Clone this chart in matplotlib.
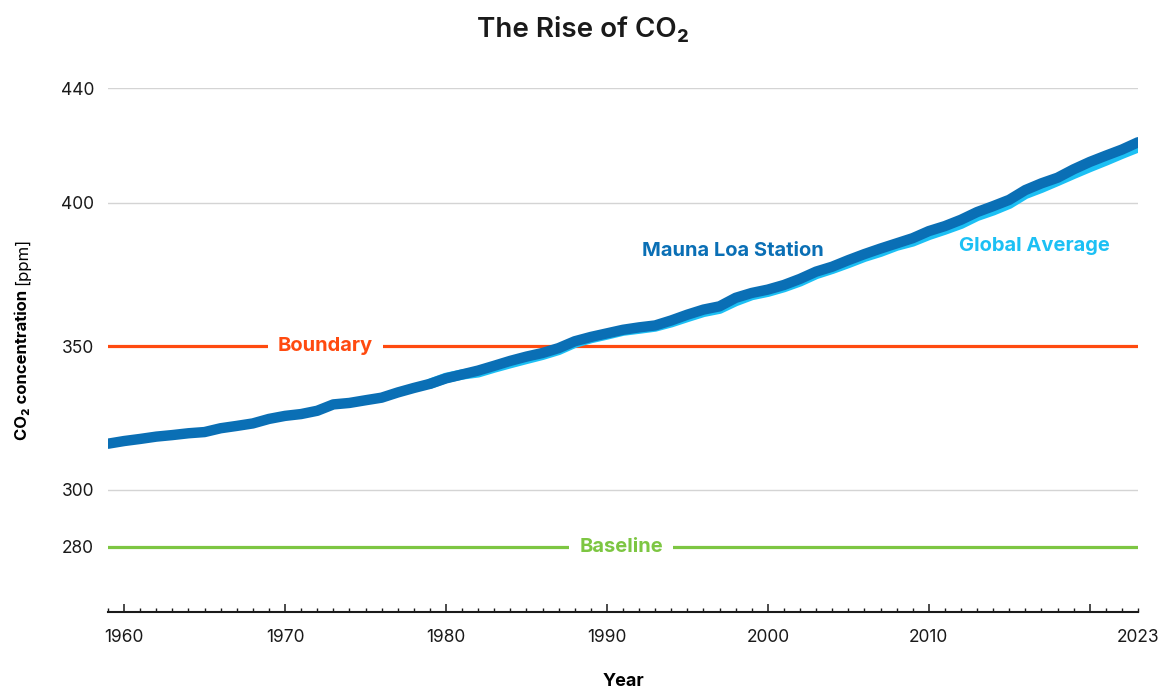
import matplotlib
matplotlib.use("Agg")
import matplotlib.pyplot as plt
from matplotlib.ticker import MultipleLocator, FixedLocator

plt.rcParams['font.family'] = ['Inter', 'DejaVu Sans']

# Mauna Loa annual means (ppm)
years_mlo = list(range(1959, 2024))
co2_mlo = [315.98, 316.91, 317.64, 318.45, 318.99, 319.62, 320.04, 321.37, 322.18, 323.05,
           324.62, 325.68, 326.32, 327.46, 329.68, 330.19, 331.13, 332.03, 333.84, 335.41,
           336.84, 338.76, 340.12, 341.48, 343.15, 344.87, 346.35, 347.61, 349.31, 351.69,
           353.20, 354.45, 355.70, 356.54, 357.21, 358.96, 360.97, 362.74, 363.88, 366.84,
           368.54, 369.71, 371.32, 373.45, 375.98, 377.70, 379.98, 382.09, 384.02, 385.83,
           387.64, 390.10, 391.85, 394.06, 396.74, 398.81, 401.01, 404.41, 406.76, 408.72,
           411.65, 414.21, 416.41, 418.53, 421.08]

# Global average (ppm)
years_glb = list(range(1979, 2024))
co2_glb = [336.85, 338.91, 340.11, 340.86, 342.53, 344.07, 345.54, 346.97, 348.68, 351.16,
           352.78, 354.05, 355.39, 356.09, 356.83, 358.33, 360.17, 361.93, 363.05, 365.70,
           367.80, 368.96, 370.57, 372.58, 375.14, 376.95, 378.98, 381.15, 382.90, 385.02,
           386.50, 388.76, 390.63, 392.65, 395.40, 397.34, 399.65, 403.07, 405.22, 407.61,
           410.07, 412.44, 414.70, 417.07, 419.31]

boundary = 350
baseline = 280
y_ticks = [280, 300, 350, 400, 440]
x_labels = [1960, 1970, 1980, 1990, 2000, 2010, 2023]

dark_blue = '#0a6fb5'
light_blue = '#1cc0f4'
orange = '#ff4a0f'
green = '#7dc642'

fig = plt.figure(figsize=(11.66, 6.89), dpi=100)
ax = fig.add_axes([108 / 1166, 1 - 612 / 689, (1138 - 108) / 1166, (612 - 88) / 689])

ax.set_xlim(1959, 2023)
ax.set_ylim(257.3, 440)

# grid lines
for y in [300, 400, 440]:
    ax.axhline(y, color='#d4d4d4', lw=1, zorder=0)

# reference lines
ax.axhline(boundary, color=orange, lw=2.3, zorder=1)
ax.axhline(baseline, color=green, lw=2.3, zorder=1)
ax.text(1972.5, boundary, 'Boundary', color=orange, fontsize=14.5, fontweight='bold',
        ha='center', va='center', zorder=2,
        bbox=dict(facecolor='white', edgecolor='none', boxstyle='square,pad=0.5'))
ax.text(1990.9, baseline, 'Baseline', color=green, fontsize=14.5, fontweight='bold',
        ha='center', va='center', zorder=2,
        bbox=dict(facecolor='white', edgecolor='none', boxstyle='square,pad=0.5'))

# data lines
ax.plot(years_glb, co2_glb, color=light_blue, lw=7.5, solid_capstyle='round',
        solid_joinstyle='round', zorder=3)
ax.plot(years_mlo, co2_mlo, color=dark_blue, lw=7.5, solid_capstyle='round',
        solid_joinstyle='round', zorder=4)

ax.text(1997.8, 383.2, 'Mauna Loa Station', color=dark_blue, fontsize=14.5,
        fontweight='bold', ha='center', va='center')
ax.text(2016.55, 384.9, 'Global Average', color=light_blue, fontsize=14.5,
        fontweight='bold', ha='center', va='center')

# axes styling
for side in ['left', 'right', 'top']:
    ax.spines[side].set_visible(False)
ax.spines['bottom'].set_linewidth(1.5)
ax.spines['bottom'].set_color('#1a1a1a')

ax.set_yticks(y_ticks)
ax.tick_params(axis='y', length=0, pad=10, labelsize=12.5, labelcolor='#1a1a1a')

ax.xaxis.set_major_locator(FixedLocator([1960, 1970, 1980, 1990, 2000, 2010, 2020]))
ax.set_xticklabels(['1960', '1970', '1980', '1990', '2000', '2010', ''])
ax.xaxis.set_minor_locator(MultipleLocator(1))
ax.tick_params(axis='x', which='major', direction='in', length=5.5, width=1.1,
               pad=12, labelsize=12.5, color='#1a1a1a', labelcolor='#1a1a1a')
ax.tick_params(axis='x', which='minor', direction='in', length=2.8, width=1.0,
               color='#1a1a1a')
ax.text(x_labels[-1], -0.033, '2023', transform=ax.get_xaxis_transform(), ha='center',
        va='top', fontsize=12.5, color='#1a1a1a')

ax.set_xlabel('Year', fontsize=13, fontweight='bold', labelpad=20)

fig.text(0.5, 1 - 30 / 689, 'The Rise of CO\u2082', ha='center', va='center',
         fontsize=20, fontweight='semibold', color='#1a1a1a')

# y label: bold part and regular part
t1 = fig.text(22 / 1166, 1 - 440 / 689, 'CO\u2082 concentration', rotation=90,
              ha='center', va='bottom', fontsize=12, fontweight='bold')
fig.canvas.draw()
bb = t1.get_window_extent()
fig.text(22 / 1166, (bb.y1 + 5) / fig.bbox.height, '[ppm]', rotation=90,
         ha='center', va='bottom', fontsize=12)

fig.savefig('out.png', dpi=100)
